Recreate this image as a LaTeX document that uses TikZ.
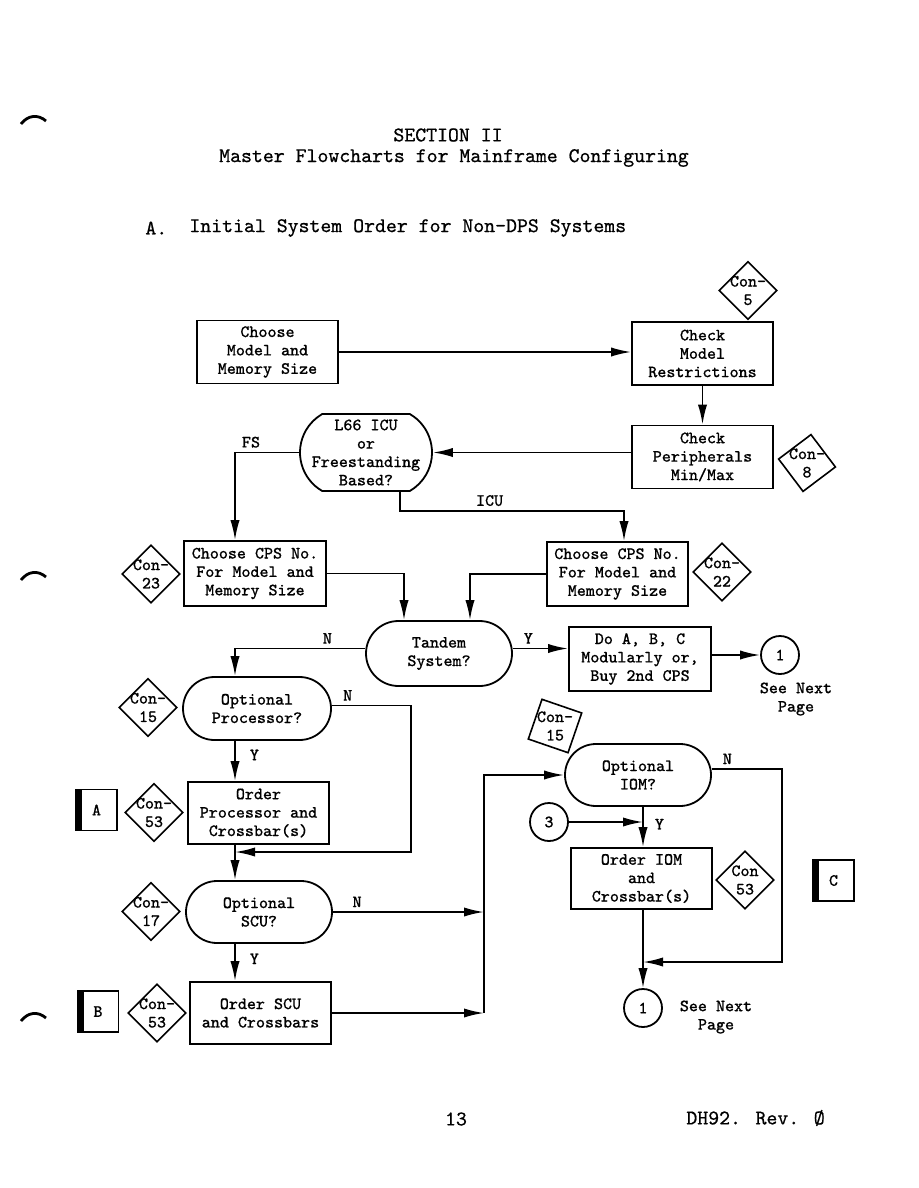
\documentclass[tikz,border=0pt]{standalone}
\usepackage{fontspec}
\usepackage{tikz}
\usetikzlibrary{arrows.meta,shapes.geometric,shapes.misc}

\newfontfamily\typefont{Latin Modern Mono}[FakeBold=0.7]
\newcommand{\bodyfont}{\typefont\fontsize{8.6}{9.2}\selectfont}
\newcommand{\headfont}{\typefont\fontsize{10.4}{12}\selectfont}

\begin{document}
\begin{tikzpicture}[x=0.5pt, y=-0.5pt, >={Latex[length=10pt,width=4.6pt]},
  every node/.style={font=\bodyfont, inner sep=0pt},
  arr/.style={line width=0.9pt, ->},
  box/.style={draw, line width=0.9pt, rectangle, align=center, minimum width=70.5pt, minimum height=31.5pt},
  ask/.style={draw, line width=0.9pt, rounded rectangle, align=center, minimum width=73pt, minimum height=31.5pt},
  con/.style={draw, line width=0.8pt, diamond, minimum width=29pt, minimum height=29pt, label={[align=center]center:{#1}}},
  offpage/.style={draw, line width=0.9pt, circle, minimum size=19pt},
  tab/.style={draw, line width=0.9pt, minimum size=20.5pt,
    path picture={\fill (path picture bounding box.south west) rectangle ([xshift=3pt]path picture bounding box.north west);}}]
  \fill[white] (0,0) rectangle (918,1188);
  \useasboundingbox (0,0) rectangle (918,1188);

  % Punch hole marks
  \draw[line width=1.4pt] (21,124) .. controls (28,115) and (38,114) .. (46,121);
  \draw[line width=1.4pt] (21,580) .. controls (28,571) and (38,570) .. (46,577);
  \draw[line width=1.4pt] (21,1021) .. controls (28,1012) and (38,1011) .. (46,1018);

  % Heading
  \node[font=\headfont] (sec) at (448,135) {SECTION II};
  \node[font=\headfont] (ttl) at (454,158) {Master Flowcharts for Mainframe Configuring};
  \node[font=\headfont, anchor=west] (secA) at (145,228) {A.};
  \node[font=\headfont, anchor=west] (secAtxt) at (189,228) {Initial System Order for Non-DPS Systems};

  % Top row
  \node[box] (choose1) at (267.5,352) {Choose\\Model and\\Memory Size};
  \node[box] (chkmodel) at (702.5,353.5) {Check\\Model\\Restrictions};
  \node[con={Con-\\5}] (con5) at (748,290.5) {};
  \node[box] (chkperiph) at (702.5,457) {Check\\Peripherals\\Min/Max};
  \node[con={Con-\\8}, rotate=-8] (con8) at (807,463) {};
  \node[draw, line width=0.9pt, rounded rectangle, rounded rectangle arc length=120,
    minimum width=66pt, minimum height=38.5pt] (icu) at (366,452.5) {};
  \node[align=center] (icutxt) at (icu) {L66 ICU\\or\\Freestanding\\Based?};

  % CPS choice
  \node[box, minimum width=71pt, minimum height=32.5pt] (choose2) at (255,573.5) {Choose CPS No.\\For Model and\\Memory Size};
  \node[con={Con-\\23}] (con23) at (151,574) {};
  \node[box, minimum height=32pt] (choose3) at (617.5,574) {Choose CPS No.\\For Model and\\Memory Size};
  \node[con={Con-\\22}] (con22) at (722,572) {};

  % Tandem
  \node[ask, minimum height=32.5pt] (tandem) at (439,653.5) {Tandem\\System?};
  \node[box, minimum width=71pt, minimum height=32pt] (dobox) at (640,659) {Do A, B, C\\Modularly or,\\Buy 2nd CPS};
  \node[offpage] (pg1a) at (780,655) {1};
  \node[align=center] (seenext1) at (796,699) {See Next\\Page};

  % Left column
  \node[ask, minimum width=74pt] (optproc) at (257,708.5) {Optional\\Processor?};
  \node[con={Con-\\15}] (con15a) at (148,707.5) {};
  \node[box, minimum height=31pt] (orderproc) at (258.5,813) {Order\\Processor and\\Crossbar(s)};
  \node[con={Con-\\53}] (con53a) at (154,812.5) {};
  \node[tab] (tabA) at (96.5,810) {A};
  \node[ask, minimum height=31pt] (optscu) at (259,912) {Optional\\SCU?};
  \node[con={Con-\\17}] (con17) at (151,911.5) {};
  \node[box, minimum height=31pt] (orderscu) at (260.5,1013) {Order SCU\\and Crossbars};
  \node[con={Con-\\53}] (con53b) at (157,1013) {};
  \node[tab] (tabB) at (98,1011.5) {B};

  % Right column
  \node[ask, minimum height=31pt] (optiom) at (638,775) {Optional\\IOM?};
  \node[draw, line width=0.8pt, minimum size=21pt, rotate=-19, label={[align=center]center:{Con-\\15}}] (con15b) at (555,726) {};
  \node[offpage] (pg3) at (549,822) {3};
  \node[box, minimum height=30.5pt] (orderiom) at (641.5,878.5) {Order IOM\\and\\Crossbar(s)};
  \node[con={Con\\53}] (con53c) at (745,880) {};
  \node[tab] (tabC) at (833.5,880.5) {C};
  \node[offpage] (pg1b) at (643,1008) {1};
  \node[align=center] (seenext2) at (716,1017) {See Next\\Page};

  % Lanes
  \coordinate (laneL) at (235,0);
  \coordinate (laneR) at (411,0);
  \coordinate (laneM) at (484,0);
  \coordinate (laneI) at (643,0);
  \coordinate (laneN) at (782,0);
  \coordinate (mergeP) at (235,852);
  \coordinate (mergeI) at (643,962);

  % Connectors
  \draw[arr] (choose1.east) -- (choose1.east -| chkmodel.west);
  \draw[arr] (chkmodel.south) -- (chkperiph.north);
  \draw[arr] (icu.east -| chkperiph.west) -- (icu.east);
  \draw[arr] (icu.west) -| node[pos=0.375, above=2pt]{FS} (choose2.north -| laneL);
  \draw[arr] ([xshift=17pt]icu.south) -- ++(0,19) -| node[pos=0.2, above=2pt]{ICU} ([xshift=3.25pt]choose3.north);
  \draw[arr] (choose2.east) -| ([xshift=-17.5pt]tandem.north);
  \draw[arr] (choose3.west) -| ([xshift=15.5pt]tandem.north);
  \draw[arr] ([yshift=2.5pt]tandem.east) -- node[pos=0.28, above=2pt]{Y} ([yshift=2.5pt]tandem.east -| dobox.west);
  \draw[arr] (pg1a.west -| dobox.east) -- (pg1a.west);
  \draw[arr] ([yshift=2.5pt]tandem.west) -| node[pos=0.145, above=2pt]{N} (optproc.north -| laneL);
  \draw[arr] ([yshift=1.5pt]optproc.east) -| node[pos=0.1, above=2pt]{N} (mergeP -| laneR) -- (mergeP);
  \draw[arr] (optproc.south -| laneL) -- node[pos=0.35, right=7pt]{Y} (orderproc.north -| laneL);
  \draw[arr] (orderproc.south -| laneL) -- (optscu.north -| laneL);
  \draw[arr] (optscu.east) -- node[pos=0.16, above=2pt]{N} (optscu.east -| laneM);
  \draw[arr] (optscu.south -| laneL) -- node[pos=0.4, right=7pt]{Y} (orderscu.north -| laneL);
  \draw[arr] (orderscu.east) -- (orderscu.east -| laneM);
  \draw[arr] (orderscu.east -| laneM) |- (optiom.west);
  \draw[arr] (pg3.east) -- (pg3.east -| laneI);
  \draw[arr] (optiom.south -| laneI) -- node[pos=0.43, right=5.5pt]{Y} (orderiom.north -| laneI);
  \draw[arr] ([yshift=3pt]optiom.east) -| node[pos=0.11, above=2pt]{N} (mergeI -| laneN) -- (mergeI);
  \draw[arr] (orderiom.south -| laneI) -- (pg1b.north);

  % Footer
  \node[font=\headfont] (pgno) at (456,1119) {13};
  \node[font=\headfont, anchor=west] (docref) at (686,1118) {DH92. Rev. Ø};
\end{tikzpicture}
\end{document}
